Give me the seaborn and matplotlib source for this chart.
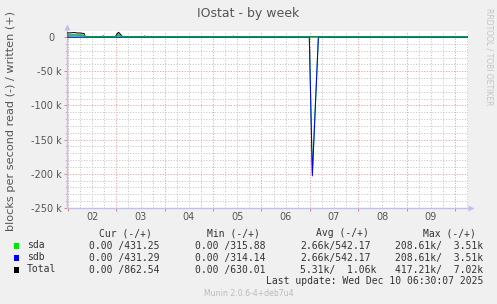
import matplotlib
matplotlib.use("Agg")
import matplotlib.pyplot as plt
import matplotlib.transforms as mtransforms
from matplotlib.patches import Rectangle
from matplotlib.ticker import FixedLocator, MultipleLocator, NullFormatter
import seaborn as sns
import pandas as pd

# ---------------- data ----------------
# time in hours since Tue Dec 02 00:00
t_read = [-0.5, 119.75, 121.25, 122.25, 124.25, 198.5]
sda_read = [0, 0, -199000, -133000, 0, 0]
sdb_read = [0, 0, -203000, -135000, 0, 0]

t_write = [-0.5, 0.0, 1.0, 2.0, 3.0, 4.0, 5.0, 6.0, 7.0, 8.0, 8.5, 17.0, 17.5, 18.0,
           23.5, 24.5, 25.0, 25.5, 26.5, 27.0, 37.5, 38.0, 38.5, 81.5, 82.0, 82.5, 198.5]
sda_write = [3000, 3200, 3100, 3300, 3400, 3200, 3000, 3100, 2900, 2700, 450, 430, 900, 430,
             440, 2600, 3510, 3000, 1200, 430, 430, 800, 430, 430, 700, 430, 431]
sdb_write = [2900, 3100, 3100, 3200, 3300, 3200, 3000, 3000, 2800, 2600, 450, 430, 880, 430,
             440, 2500, 3500, 2900, 1200, 430, 430, 790, 430, 430, 690, 430, 431]
total_write = [5900, 6300, 6200, 6500, 6700, 6400, 6000, 6100, 5700, 5300, 900, 860, 1780, 860,
               880, 5100, 7010, 5900, 2400, 860, 860, 1590, 860, 860, 1390, 860, 862]

day_starts = [0, 24, 48, 72, 96, 120, 144, 168, 192]
day_label_hours = [12, 36, 60, 84, 108, 132, 156, 180]
day_labels = ["02", "03", "04", "05", "06", "07", "08", "09"]

y_ticks = [-250000, -200000, -150000, -100000, -50000, 0]
y_tick_labels = ["-250 k", "-200 k", "-150 k", "-100 k", "-50 k", "0  "]

series_names = ["sda", "sdb", "Total"]
series_colors = ["#00E800", "#0000FF", "#000000"]
cur_vals = ["0.00 /431.25", "0.00 /431.29", "0.00 /862.54"]
min_vals = ["0.00 /315.88", "0.00 /314.14", "0.00 /630.01"]
avg_vals = ["2.66k/542.17", "2.66k/542.17", "5.31k/  1.06k"]
max_vals = ["208.61k/  3.51k", "208.61k/  3.51k", "417.21k/  7.02k"]
headers = ["Cur (-/+)", "Min (-/+)", "Avg (-/+)", "Max (-/+)"]

title = "IOstat - by week"
ylabel = "blocks per second read (-) / written (+)"
last_update = "Last update: Wed Dec 10 06:30:07 2025"
footer = "Munin 2.0.6-4+deb7u4"
side_text = "RRDTOOL / TOBI OETIKER"

# ---------------- figure ----------------
sns.set_theme(style="white")
plt.rcParams["font.family"] = ["DejaVu Sans"]

W, H = 497, 304
fig = plt.figure(figsize=(W / 100, H / 100), dpi=100, facecolor="#F0F0F0")
ax = fig.add_axes([67 / W, 1 - 208 / H, 401 / W, 177 / H])
ax.set_facecolor("white")

def fx(px):
    return px / W

def fy(py):
    return 1 - py / H

read_df = pd.DataFrame({"t": t_read, "sda": sda_read, "sdb": sdb_read})
write_df = pd.DataFrame({"t": t_write, "sda": sda_write, "sdb": sdb_write, "Total": total_write})

lw = 0.75
sns.lineplot(data=read_df, x="t", y="sda", ax=ax, color=series_colors[0], lw=lw, estimator=None, zorder=5)
sns.lineplot(data=read_df, x="t", y="sdb", ax=ax, color=series_colors[1], lw=lw, estimator=None, zorder=6)
sns.lineplot(data=write_df, x="t", y="Total", ax=ax, color=series_colors[2], lw=lw, estimator=None, zorder=7)
sns.lineplot(data=write_df, x="t", y="sdb", ax=ax, color=series_colors[1], lw=lw, estimator=None, zorder=8)
sns.lineplot(data=write_df, x="t", y="sda", ax=ax, color=series_colors[0], lw=lw, estimator=None, zorder=9)

ax.set_xlim(-0.5, 198.5)
ax.set_ylim(-250000, 9000)
ax.set_xlabel("")
ax.set_ylabel("")

# grids
grid_gray = "#C8C8C8"
grid_red = "#F0A0A0"
dots = (0, (1.2, 1.6))
ax.xaxis.set_major_locator(FixedLocator(day_starts))
ax.xaxis.set_minor_locator(MultipleLocator(6))
ax.xaxis.set_major_formatter(NullFormatter())
ax.yaxis.set_major_locator(FixedLocator(y_ticks))
ax.set_yticklabels(y_tick_labels)
ax.yaxis.set_minor_locator(MultipleLocator(10000))
ax.grid(which="minor", color=grid_gray, lw=0.7, ls=dots)
ax.grid(which="major", color=grid_red, lw=0.7, ls=dots)
ax.set_axisbelow(True)

ax.tick_params(axis="x", which="major", direction="out", length=2.5, width=0.7, color="#E08080", bottom=True)
ax.tick_params(axis="x", which="minor", direction="out", length=0, bottom=True)
ax.tick_params(axis="y", which="major", direction="out", length=2.5, width=0.7, color="#E08080",
               left=True, labelsize=7, labelcolor="#555555", pad=1.2)
ax.tick_params(axis="y", which="minor", direction="out", length=1.5, width=0.6, color="#BBBBBB", left=True)

for s in ["top", "right"]:
    ax.spines[s].set_visible(False)
axis_col = "#C0C0F0"
for s in ["left", "bottom"]:
    ax.spines[s].set_color(axis_col)
    ax.spines[s].set_linewidth(1.0)

ax.plot([1.0 + 3 / 401], [0], marker=">", ms=4.5, color=axis_col, transform=ax.transAxes, clip_on=False, mec="none")
ax.plot([0], [1.0 + 4 / 177], marker="^", ms=4.5, color=axis_col, transform=ax.transAxes, clip_on=False, mec="none")

trans = mtransforms.blended_transform_factory(ax.transData, fig.transFigure)
for h, lab in zip(day_label_hours, day_labels):
    ax.text(h, fy(217), lab, transform=trans, ha="center", va="center", fontsize=7, color="#555555")

# titles
fig.text(fx(248), fy(13), title, ha="center", va="center", fontsize=9, color="#555555")
fig.text(fx(11), fy(121), ylabel, ha="center", va="center", rotation=90, fontsize=8.1, color="#555555")
fig.text(fx(489), fy(57), side_text, ha="center", va="center", rotation=270, fontsize=5.5, color="#C4C4C4")

# legend
mono = "DejaVu Sans Mono"
lfs = 7
lcol = "#333333"
for hx, htxt in zip([99, 207, 316, 423], headers):
    fig.text(fx(hx), fy(233.5), htxt, ha="left", va="center", fontsize=lfs, family=mono, color=lcol)
row_y = [245.5, 257.5, 269.5]
for i, name in enumerate(series_names):
    y = row_y[i]
    fig.patches.append(Rectangle((fx(14), fy(y + 3)), 5 / W, 6 / H, transform=fig.transFigure,
                                 facecolor=series_colors[i], edgecolor="none"))
    fig.text(fx(27), fy(y), name, ha="left", va="center", fontsize=lfs, family=mono, color=lcol)
    fig.text(fx(89), fy(y), cur_vals[i], ha="left", va="center", fontsize=lfs, family=mono, color=lcol)
    fig.text(fx(195), fy(y), min_vals[i], ha="left", va="center", fontsize=lfs, family=mono, color=lcol)
    fig.text(fx(300), fy(y), avg_vals[i], ha="left", va="center", fontsize=lfs, family=mono, color=lcol)
    fig.text(fx(483), fy(y), max_vals[i], ha="right", va="center", fontsize=lfs, family=mono, color=lcol)
fig.text(fx(483), fy(281.5), last_update, ha="right", va="center", fontsize=lfs, family=mono, color=lcol)
fig.text(fx(249), fy(293), footer, ha="center", va="center", fontsize=5.6, color="#BBBBBB")

fig.savefig("out.png", dpi=100, facecolor=fig.get_facecolor())
